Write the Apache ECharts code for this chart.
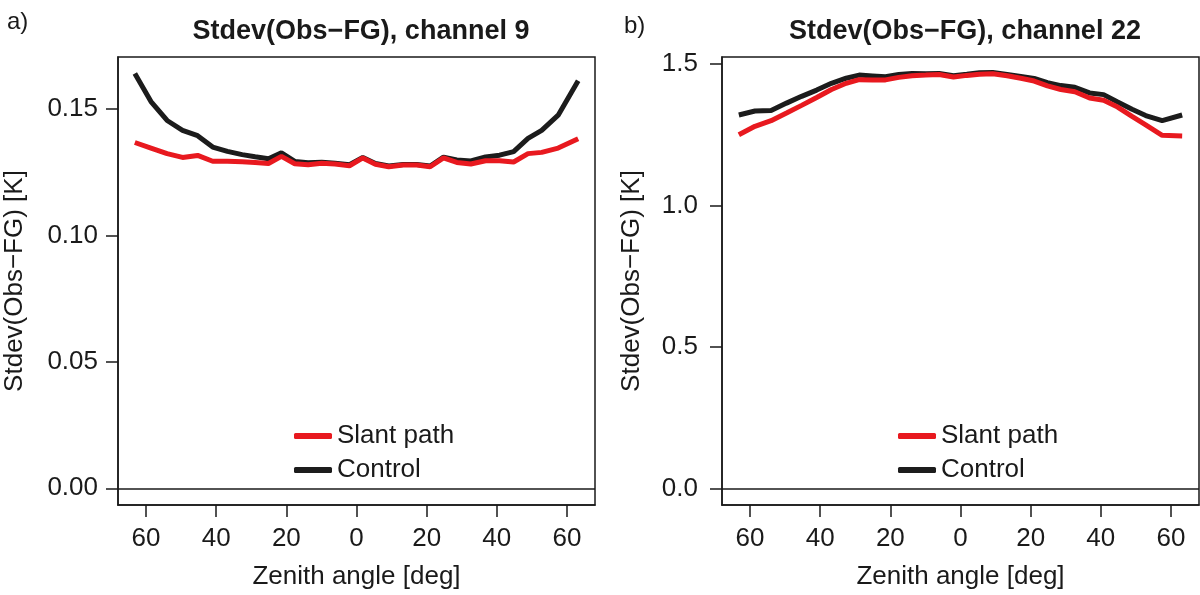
<!DOCTYPE html>
<html>
<head>
<meta charset="utf-8">
<title>Stdev(Obs−FG)</title>
<script src="https://cdn.jsdelivr.net/npm/echarts@6/dist/echarts.min.js"></script>
<style>
  html, body { margin: 0; padding: 0; background: #fff; }
  #chart { width: 1200px; height: 595px; }
</style>
</head>
<body>
<div id="chart"></div>
<script>
// zenith angle of each bin [deg]
var zen = [-63.2, -58.6, -54.0, -49.6, -45.3, -41.0, -36.8, -32.6, -28.9, -25.1, -21.4, -17.6, -13.8, -9.9, -6.1, -2.0,
           1.8, 5.4, 9.2, 13.3, 17.2, 21.0, 24.8, 28.6, 32.6, 36.8, 40.8, 44.8, 48.9, 52.8, 57.5, 63.2];

// channel 9
var slant9 = [0.1367, 0.1345, 0.1323, 0.1308, 0.1316, 0.1293, 0.1293, 0.1291, 0.1288, 0.1284, 0.1312, 0.1283, 0.1279, 0.1285, 0.1282, 0.1275,
              0.1306, 0.1281, 0.1271, 0.1278, 0.1278, 0.1271, 0.1306, 0.1288, 0.1282, 0.1295, 0.1295, 0.1290, 0.1323, 0.1328, 0.1345, 0.1382];
var ctrl9 = [0.1640, 0.1529, 0.1454, 0.1415, 0.1394, 0.1349, 0.1332, 0.1319, 0.1311, 0.1303, 0.1326, 0.1292, 0.1287, 0.1289, 0.1285, 0.1279,
             0.1308, 0.1284, 0.1274, 0.1280, 0.1280, 0.1274, 0.1309, 0.1298, 0.1294, 0.1310, 0.1317, 0.1331, 0.1383, 0.1415, 0.1475, 0.1611];

// channel 22
var slant22 = [1.250, 1.280, 1.300, 1.327, 1.354, 1.382, 1.410, 1.432, 1.445, 1.444, 1.444, 1.453, 1.459, 1.461, 1.463, 1.454,
               1.460, 1.464, 1.466, 1.459, 1.450, 1.440, 1.423, 1.410, 1.402, 1.380, 1.372, 1.348, 1.315, 1.285, 1.248, 1.246];
var ctrl22 = [1.320, 1.334, 1.336, 1.362, 1.386, 1.408, 1.432, 1.450, 1.461, 1.458, 1.455, 1.463, 1.467, 1.466, 1.467, 1.459,
              1.464, 1.469, 1.470, 1.463, 1.456, 1.449, 1.434, 1.424, 1.418, 1.398, 1.392, 1.366, 1.340, 1.318, 1.300, 1.320];

// tick positions
var xTicks = [-60, -40, -20, 0, 20, 40, 60];
var yTicks9 = [0, 0.05, 0.10, 0.15];
var yTicks22 = [0, 0.5, 1.0, 1.5];

var RED = '#e8191f';
var BLACK = '#1c1c1c';
var INK = '#1a1a1a';
var FONT = "'Liberation Sans', Arial, Helvetica, sans-serif";

function pairs(ys) {
    return zen.map(function (x, i) { return [x, ys[i]]; });
}

var chart = echarts.init(document.getElementById('chart'));

function xAxisOpt(idx) {
    return {
        type: 'value',
        gridIndex: idx,
        position: 'bottom',
        min: -68,
        max: 68,
        name: 'Zenith angle [deg]',
        nameLocation: 'middle',
        nameGap: 59,
        nameTextStyle: { fontSize: 26, color: INK },
        axisLine: { show: true, onZero: false, lineStyle: { color: INK, width: 1.5 } },
        axisTick: {
            show: true, inside: false, customValues: xTicks, length: 12,
            lineStyle: { color: INK, width: 1.5 }
        },
        axisLabel: {
            customValues: xTicks, fontSize: 26, color: INK, margin: 21,
            formatter: function (v) { return String(Math.abs(v)); }
        },
        splitLine: { show: false }
    };
}

function yAxisOpt(idx, min, max, ticks, digits, gap, margin) {
    return {
        type: 'value',
        gridIndex: idx,
        position: 'left',
        min: min,
        max: max,
        name: 'Stdev(Obs−FG) [K]',
        nameLocation: 'middle',
        nameRotate: 90,
        nameGap: gap,
        nameTextStyle: { fontSize: 26, color: INK },
        axisLine: { show: true, onZero: false, lineStyle: { color: INK, width: 1.5 } },
        axisTick: {
            show: true, inside: false, customValues: ticks, length: 12,
            lineStyle: { color: INK, width: 1.5 }
        },
        axisLabel: {
            customValues: ticks, fontSize: 26, color: INK, margin: margin,
            formatter: function (v) { return v.toFixed(digits); }
        },
        splitLine: { show: false }
    };
}

function lineSeries(name, idx, ys, color, zeroLine) {
    var s = {
        name: name,
        type: 'line',
        xAxisIndex: idx,
        yAxisIndex: idx,
        data: pairs(ys),
        symbol: 'none',
        lineStyle: { color: color, width: 5 },
        itemStyle: { color: color }
    };
    if (zeroLine) {
        s.markLine = {
            silent: true,
            symbol: 'none',
            label: { show: false },
            lineStyle: { color: INK, width: 1.5, type: 'solid' },
            data: [{ yAxis: 0 }]
        };
    }
    return s;
}

function legendOpt(left) {
    return {
        left: left,
        top: 418,
        orient: 'vertical',
        itemWidth: 38,
        itemHeight: 6,
        itemGap: 8,
        icon: 'roundRect',
        textStyle: { fontSize: 26, color: INK, lineHeight: 26 },
        data: ['Slant path', 'Control']
    };
}

option = {
    animation: false,
    textStyle: { fontFamily: FONT },
    title: [
        { text: 'Stdev(Obs−FG), channel 9', left: 356, top: 13, textAlign: 'center',
          textStyle: { fontSize: 27, fontWeight: 'bold', color: INK } },
        { text: 'Stdev(Obs−FG), channel 22', left: 960, top: 13, textAlign: 'center',
          textStyle: { fontSize: 27, fontWeight: 'bold', color: INK } },
        { text: 'a)', left: 2, top: 5, textStyle: { fontSize: 24, fontWeight: 'normal', color: INK } },
        { text: 'b)', left: 619, top: 9, textStyle: { fontSize: 24, fontWeight: 'normal', color: INK } }
    ],
    legend: [legendOpt(289), legendOpt(893)],
    grid: [
        { left: 118, top: 57, width: 477, height: 450, show: true, borderColor: INK, borderWidth: 1.5, backgroundColor: 'transparent' },
        { left: 722, top: 57, width: 477, height: 450, show: true, borderColor: INK, borderWidth: 1.5, backgroundColor: 'transparent' }
    ],
    xAxis: [xAxisOpt(0), xAxisOpt(1)],
    yAxis: [
        yAxisOpt(0, -0.0066, 0.1705, yTicks9, 2, 90, 20),
        yAxisOpt(1, -0.0586, 1.525, yTicks22, 1, 77, 24)
    ],
    series: [
        lineSeries('Control', 0, ctrl9, BLACK, true),
        lineSeries('Slant path', 0, slant9, RED, false),
        lineSeries('Control', 1, ctrl22, BLACK, true),
        lineSeries('Slant path', 1, slant22, RED, false)
    ]
};

chart.setOption(option);
</script>
</body>
</html>
